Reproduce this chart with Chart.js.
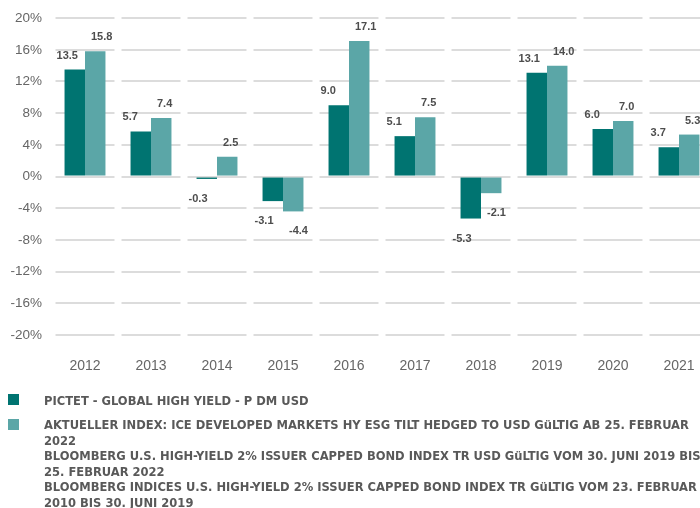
<!DOCTYPE html>
<html>
<head>
<meta charset="utf-8">
<script src="https://cdn.jsdelivr.net/npm/chart.js@4"></script>
<style>
  html, body { margin: 0; padding: 0; background: #fff; width: 700px; height: 508px; overflow: hidden; }
  #wrap { position: absolute; left: 0; top: 0; width: 700px; height: 380px; overflow: hidden; }
  #legend { position: absolute; left: 0; top: 0; width: 700px; height: 508px; pointer-events: none;
    font-family: "Liberation Sans Narrow", "DejaVu Sans Condensed", "Liberation Sans", sans-serif;
    font-weight: bold; font-size: 12.8px; color: #595959; }
  .sw { position: absolute; left: 8px; width: 11px; height: 11px; }
  .txt { position: absolute; left: 44px; white-space: nowrap; line-height: 15.5px; }
</style>
</head>
<body>
<div id="wrap"><canvas id="c" width="720" height="380"></canvas></div>
<div id="legend"></div>
<script>
const categories = ["2012","2013","2014","2015","2016","2017","2018","2019","2020","2021"];
const fundValues = [13.5, 5.7, -0.3, -3.1, 9.0, 5.1, -5.3, 13.1, 6.0, 3.7];
const indexValues = [15.8, 7.4, 2.5, -4.4, 17.1, 7.5, -2.1, 14.0, 7.0, 5.3];
const seriesNames = [
  ["PICTET - GLOBAL HIGH YIELD - P DM USD"],
  ["AKTUELLER INDEX: ICE DEVELOPED MARKETS HY ESG TILT HEDGED TO USD GüLTIG AB 25. FEBRUAR",
   "2022",
   "BLOOMBERG U.S. HIGH-YIELD 2% ISSUER CAPPED BOND INDEX TR USD GüLTIG VOM 30. JUNI 2019 BIS",
   "25. FEBRUAR 2022",
   "BLOOMBERG INDICES U.S. HIGH-YIELD 2% ISSUER CAPPED BOND INDEX TR GüLTIG VOM 23. FEBRUAR",
   "2010 BIS 30. JUNI 2019"]
];
const yTicks = { min: -20, max: 20, step: 4 };
const colors = ["#007471", "#5ba6a7"];

const gapPlugin = {
  id: 'gridGaps',
  beforeDatasetsDraw(chart) {
    const x = chart.scales.x, a = chart.chartArea, ctx = chart.ctx;
    const n = categories.length;
    const w = x.getPixelForValue(1) - x.getPixelForValue(0);
    ctx.save();
    ctx.fillStyle = '#ffffff';
    for (let i = 0; i <= n; i++) {
      const px = x.getPixelForValue(0) + (i - 0.5) * w;
      ctx.fillRect(px - 3.5, a.top - 3, 7, a.bottom - a.top + 6);
    }
    ctx.restore();
  }
};

const labelPlugin = {
  id: 'valLabels',
  afterDatasetsDraw(chart) {
    const ctx = chart.ctx;
    ctx.save();
    ctx.font = 'bold 11px "Liberation Sans", Arial, sans-serif';
    ctx.fillStyle = '#4d4d4d';
    ctx.textAlign = 'left';
    ctx.textBaseline = 'middle';
    chart.data.datasets.forEach((ds, di) => {
      const meta = chart.getDatasetMeta(di);
      meta.data.forEach((bar, i) => {
        const v = ds.data[i];
        const left = bar.x - bar.width / 2 + (di === 0 ? -8 : 6);
        const y = v >= 0 ? bar.y - 14 : bar.y + 20;
        ctx.fillText(v.toFixed(1), left, y);
      });
    });
    ctx.restore();
  }
};

new Chart(document.getElementById('c'), {
  type: 'bar',
  data: {
    labels: categories,
    datasets: [
      { label: seriesNames[0].join(' '), data: fundValues, backgroundColor: colors[0] },
      { label: seriesNames[1].join(' '), data: indexValues, backgroundColor: colors[1] }
    ]
  },
  options: {
    responsive: false,
    devicePixelRatio: 1,
    animation: false,
    events: [],
    layout: { padding: { top: 17, right: 8, left: 0, bottom: 0 } },
    datasets: { bar: { categoryPercentage: 0.62, barPercentage: 1.0 } },
    plugins: { legend: { display: false }, tooltip: { enabled: false } },
    scales: {
      x: {
        grid: { display: false, drawTicks: false },
        border: { display: false },
        ticks: { color: '#666', font: { family: '"Liberation Sans", Arial, sans-serif', size: 14 }, padding: 23, maxRotation: 0 },
        afterFit(s) { s.height = 45; }
      },
      y: {
        min: yTicks.min, max: yTicks.max,
        grid: { color: '#dcdcdc', lineWidth: 2, drawTicks: false },
        border: { display: false },
        ticks: { stepSize: yTicks.step, color: '#666', font: { family: '"Liberation Sans", Arial, sans-serif', size: 13.5 }, padding: 10,
                 callback: v => v + '%' },
        afterFit(s) { s.width = 52; }
      }
    }
  },
  plugins: [gapPlugin, labelPlugin]
});

// legend (HTML, wraps like the reference)
const lg = document.getElementById('legend');
const entries = [
  { top: 394, textTop: 393 },
  { top: 419, textTop: 417 }
];
seriesNames.forEach((lines, i) => {
  const sw = document.createElement('div');
  sw.className = 'sw';
  sw.style.top = entries[i].top + 'px';
  sw.style.background = colors[i];
  lg.appendChild(sw);
  const t = document.createElement('div');
  t.className = 'txt';
  t.style.top = entries[i].textTop + 'px';
  t.innerHTML = lines.join('<br>');
  lg.appendChild(t);
});
</script>
</body>
</html>
